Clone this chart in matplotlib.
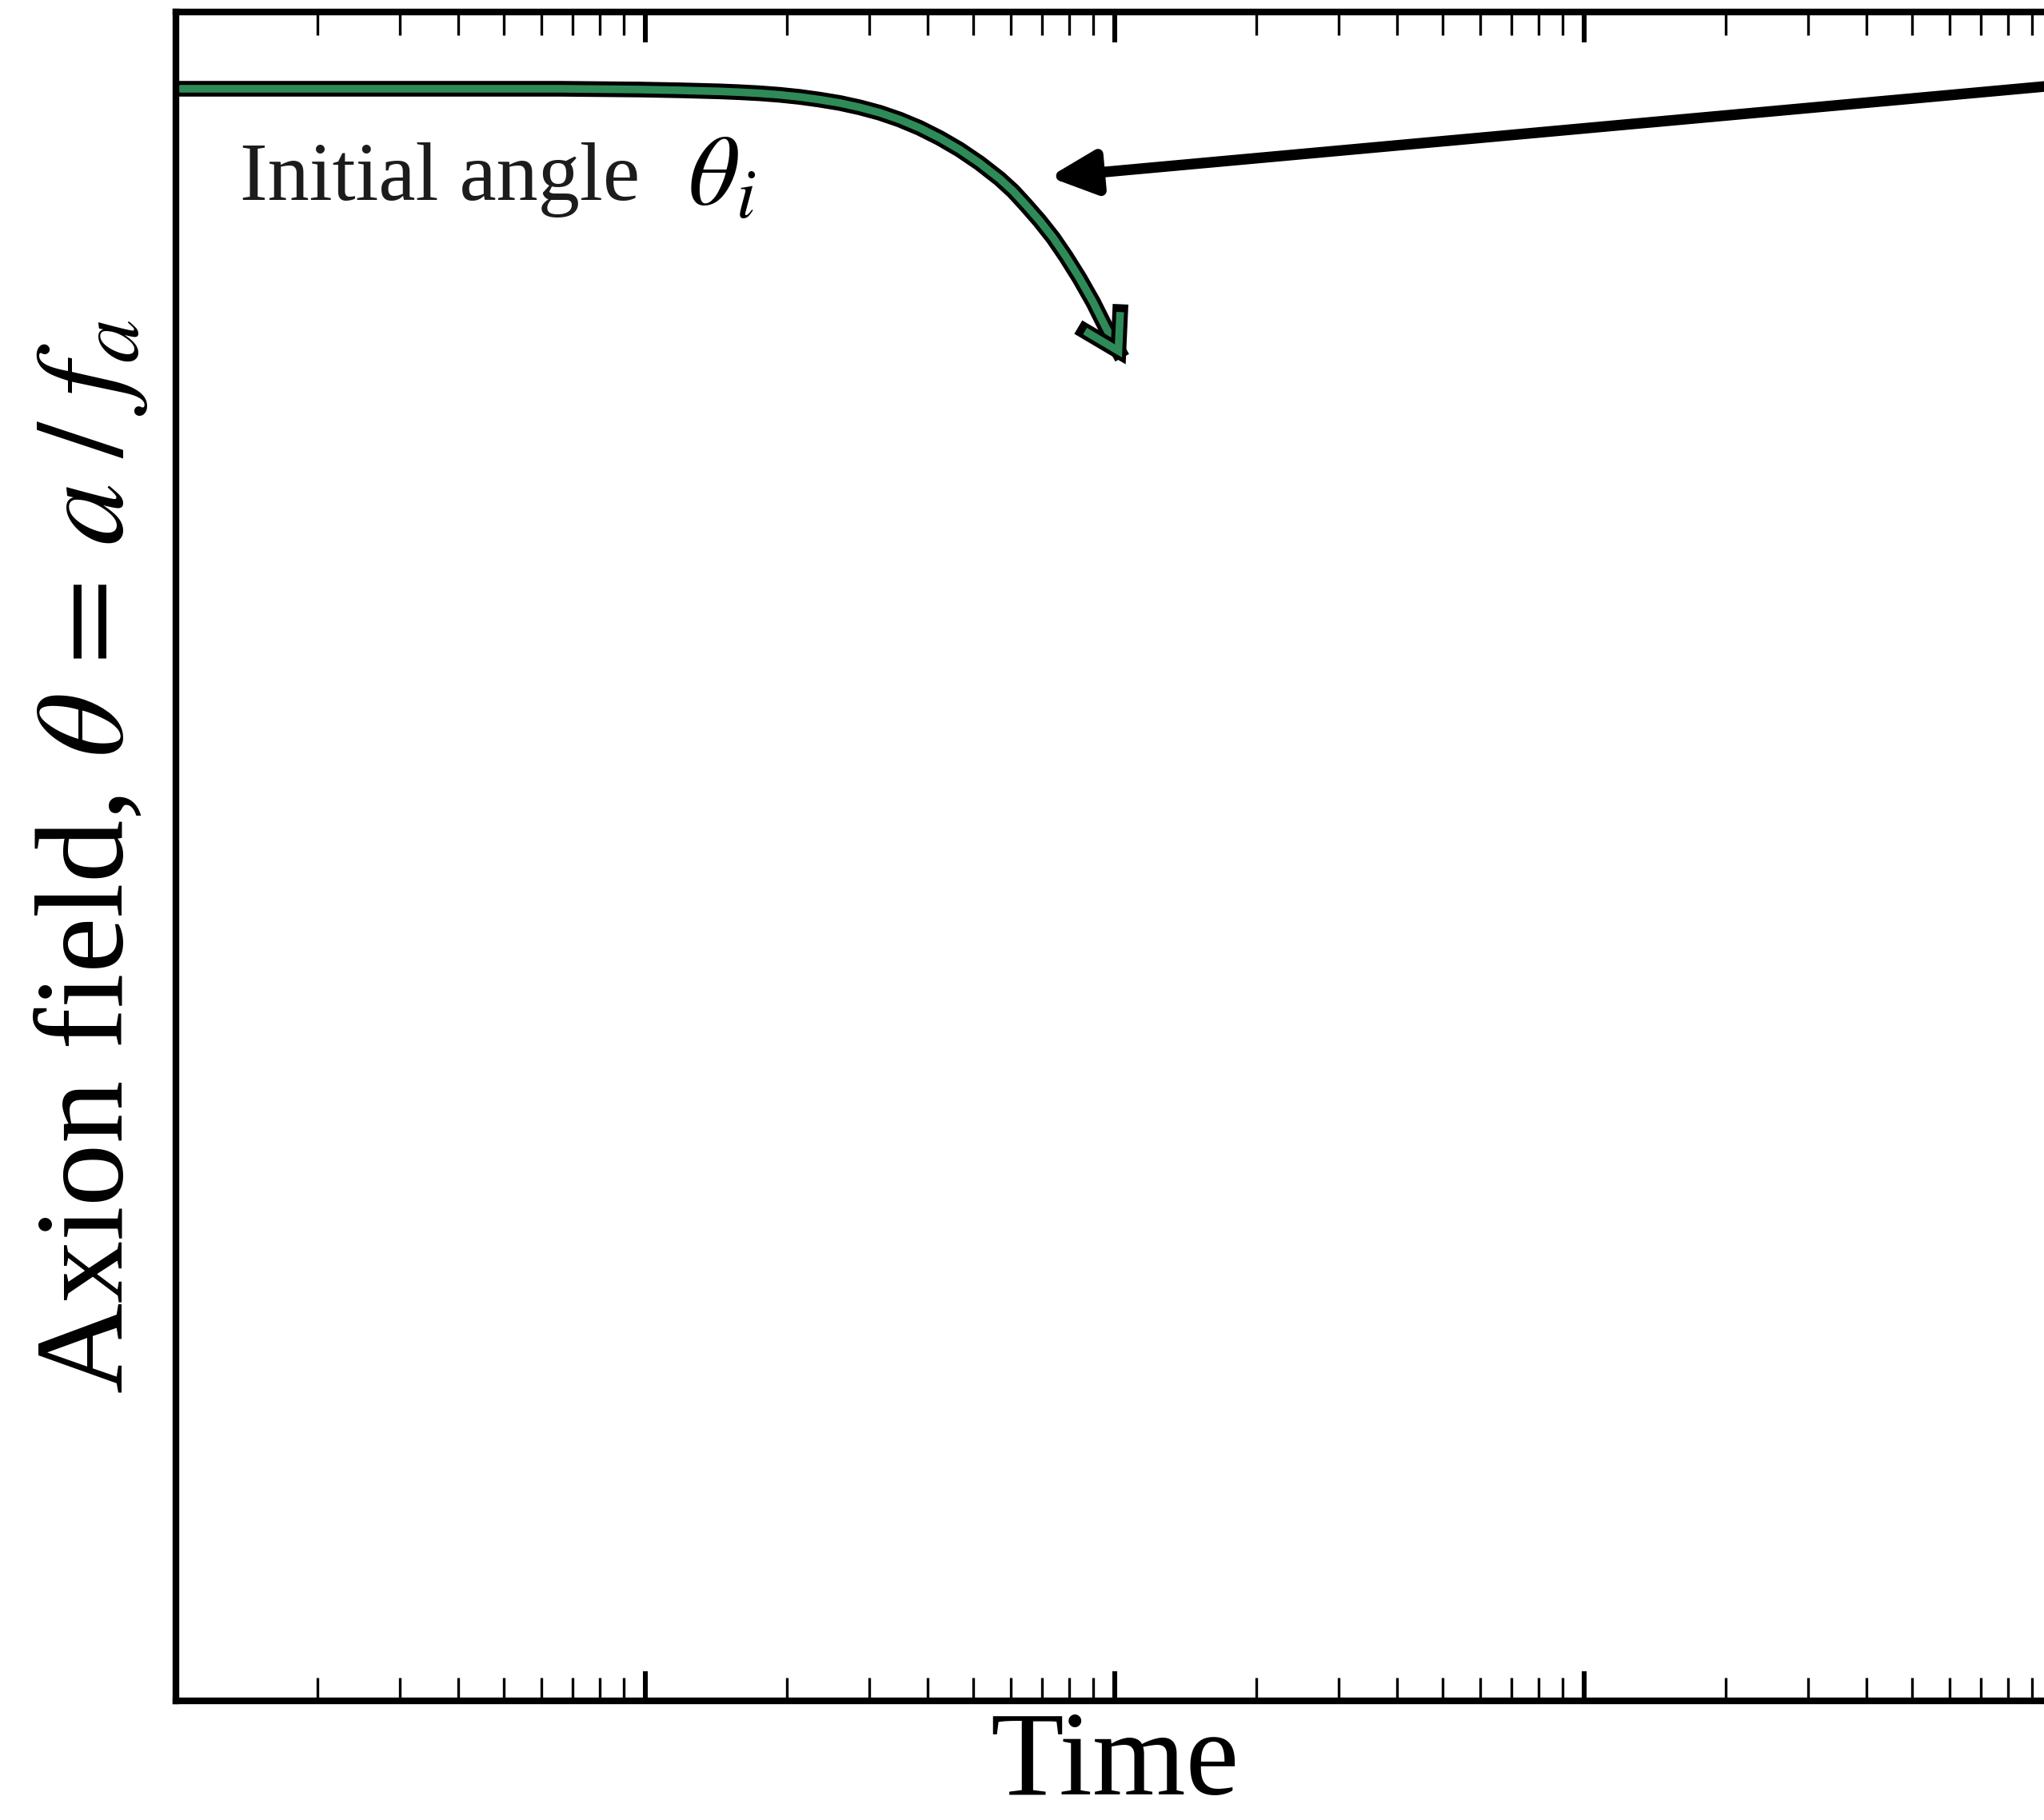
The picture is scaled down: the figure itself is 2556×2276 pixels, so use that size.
import numpy as np
import matplotlib
matplotlib.use('Agg')
import matplotlib.pyplot as plt
import matplotlib.patches as mpatches
import matplotlib.patheffects as pe
from matplotlib.path import Path

plt.rcParams['font.family'] = ['Liberation Serif', 'DejaVu Serif']
plt.rcParams['mathtext.fontset'] = 'stix'

# axion field (time in arbitrary units, theta in units of theta_i)
time = [1.0, 4.44, 6.57, 9.73, 11.84, 14.40, 15.89, 17.52, 19.33, 21.32,
        23.52, 25.94, 28.61, 31.56, 34.81, 38.40, 42.36, 46.72, 51.54,
        56.85, 60.75, 64.71, 69.18, 73.94, 78.73, 84.14, 89.95, 95.79, 103.6]
theta = [1.0, 1.0, 1.0, 0.999, 0.998, 0.9966, 0.9955, 0.9941, 0.9921, 0.9894,
         0.9858, 0.9815, 0.9758, 0.9688, 0.9599, 0.9490, 0.9359, 0.9208, 0.9031,
         0.8828, 0.8667, 0.8484, 0.8281, 0.8057, 0.7813, 0.7531, 0.7219, 0.6885,
         0.6500]

W, H = 2556, 2276
fig = plt.figure(figsize=(W / 300, H / 300), dpi=300)
# axes runs a little past the right edge of the figure, as in the original crop
ax = fig.add_axes([220 / W, 1 - 2127 / H, (2568 - 220) / W, (2127 - 15) / H])

ax.set_xscale('log')
ax.set_xlim(1, 1e4)
ax.set_ylim(-1.1, 1.1)
ax.set_yticks([])
ax.tick_params(axis='x', which='both', direction='in', top=True, bottom=True,
               labelbottom=False, labeltop=False)
ax.tick_params(axis='x', which='major', length=9, width=1.45)
ax.tick_params(axis='x', which='minor', length=6.9, width=0.8)
for s in ax.spines.values():
    s.set_linewidth(2.0)

# green curve ending in an open arrow head, outlined in black
curve = mpatches.FancyArrowPatch(
    path=Path(np.column_stack([time, theta])),
    arrowstyle='->,head_length=1.0,head_width=0.6', mutation_scale=10,
    color='seagreen', lw=2.3, joinstyle='miter', capstyle='butt',
    path_effects=[pe.Stroke(linewidth=4.7, foreground='black', capstyle='projecting'),
                  pe.Normal()])
ax.add_patch(curve)

# black arrow coming in from the right
ax.annotate('', xy=(72.5, 0.885), xytext=(54400, 1.045),
            arrowprops=dict(arrowstyle='-|>,head_length=1.15,head_width=0.55',
                            mutation_scale=10, color='black', lw=3.2,
                            shrinkA=0, shrinkB=0))

fig.text(300 / W, 1 - 250 / H, 'Initial angle', fontsize=25, color='#1c1c1c',
         va='baseline', ha='left')
fig.text(860 / W, 1 - 256 / H, r'$\theta_i$', fontsize=30, color='black',
         va='baseline', ha='left')

ax.set_xlabel('Time', fontsize=36, labelpad=3)
ax.set_ylabel(r'Axion field, $\theta\,=\,a\;/\;f_a$', fontsize=37.6, labelpad=8)

fig.savefig('out.png', dpi=300)
